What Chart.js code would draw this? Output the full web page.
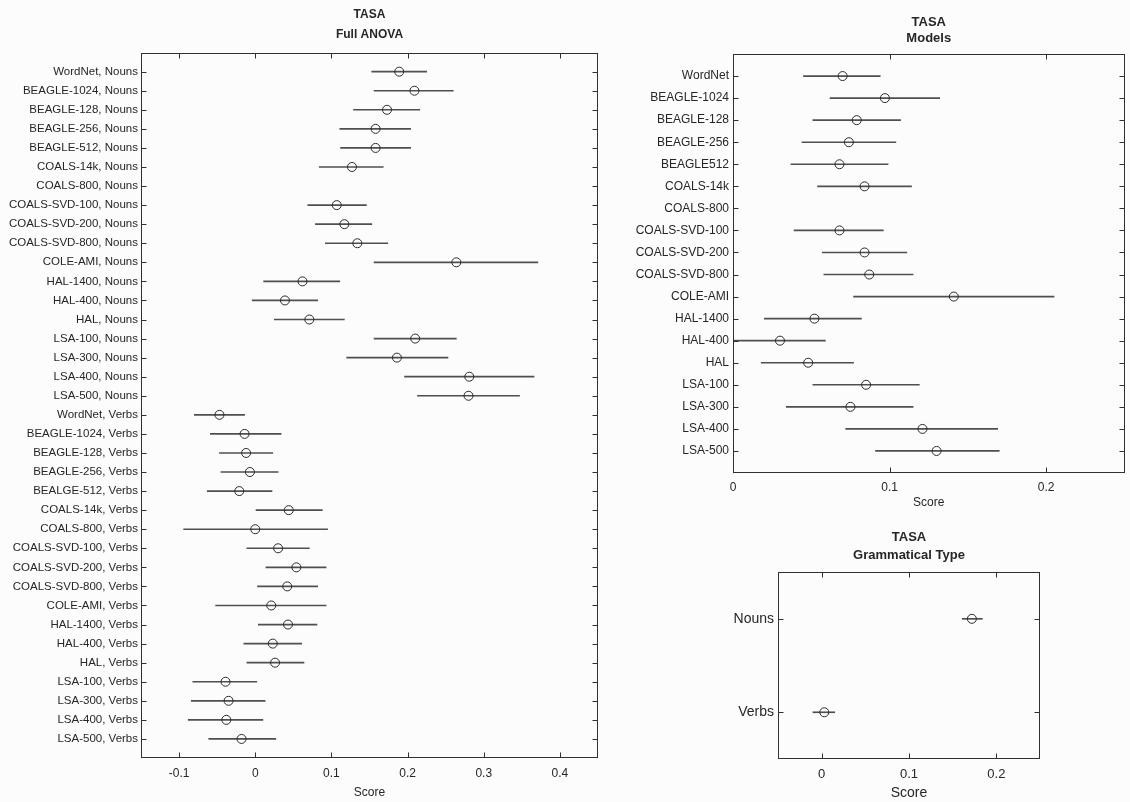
<!DOCTYPE html>
<html>
<head>
<meta charset="utf-8">
<script src="https://cdn.jsdelivr.net/npm/chart.js@4"></script>
<style>
  html, body { margin: 0; padding: 0; background: #fcfcfd; }
  #wrap { position: relative; width: 1130px; height: 802px; }
  canvas { position: absolute; left: 0; top: 0; }
</style>
</head>
<body>
<div id="wrap">
  <canvas id="anova" width="1130" height="802"></canvas>
  <canvas id="models" width="1130" height="802"></canvas>
  <canvas id="types" width="1130" height="802"></canvas>
</div>
<script>
// --- Full ANOVA panel ---
const anovaLabels = ['WordNet, Nouns','BEAGLE-1024, Nouns','BEAGLE-128, Nouns','BEAGLE-256, Nouns','BEAGLE-512, Nouns',
  'COALS-14k, Nouns','COALS-800, Nouns','COALS-SVD-100, Nouns','COALS-SVD-200, Nouns','COALS-SVD-800, Nouns',
  'COLE-AMI, Nouns','HAL-1400, Nouns','HAL-400, Nouns','HAL, Nouns','LSA-100, Nouns','LSA-300, Nouns',
  'LSA-400, Nouns','LSA-500, Nouns','WordNet, Verbs','BEAGLE-1024, Verbs','BEAGLE-128, Verbs','BEAGLE-256, Verbs',
  'BEALGE-512, Verbs','COALS-14k, Verbs','COALS-800, Verbs','COALS-SVD-100, Verbs','COALS-SVD-200, Verbs',
  'COALS-SVD-800, Verbs','COLE-AMI, Verbs','HAL-1400, Verbs','HAL-400, Verbs','HAL, Verbs','LSA-100, Verbs',
  'LSA-300, Verbs','LSA-400, Verbs','LSA-500, Verbs'];
const anovaMean = [0.189, 0.209, 0.173, 0.158, 0.158, 0.127, null, 0.107, 0.117, 0.134, 0.264, 0.062, 0.039, 0.071,
  0.210, 0.186, 0.281, 0.280, -0.047, -0.014, -0.012, -0.007, -0.021, 0.044, 0.000, 0.030, 0.054, 0.042, 0.021,
  0.043, 0.023, 0.026, -0.039, -0.035, -0.038, -0.018];
const anovaLow = [0.153, 0.156, 0.129, 0.111, 0.112, 0.084, null, 0.069, 0.079, 0.092, 0.156, 0.011, -0.004, 0.025,
  0.156, 0.120, 0.196, 0.213, -0.080, -0.059, -0.047, -0.045, -0.063, 0.001, -0.094, -0.011, 0.014, 0.003, -0.052,
  0.004, -0.015, -0.011, -0.082, -0.084, -0.088, -0.061];
const anovaHigh = [0.225, 0.260, 0.216, 0.204, 0.204, 0.168, null, 0.146, 0.153, 0.174, 0.371, 0.111, 0.082, 0.117,
  0.264, 0.253, 0.366, 0.347, -0.014, 0.034, 0.023, 0.030, 0.022, 0.088, 0.095, 0.071, 0.093, 0.082, 0.093,
  0.081, 0.061, 0.064, 0.002, 0.013, 0.010, 0.027];
const anovaTicks = [-0.1, 0, 0.1, 0.2, 0.3, 0.4];

// --- Models panel ---
const modelLabels = ['WordNet','BEAGLE-1024','BEAGLE-128','BEAGLE-256','BEAGLE512','COALS-14k','COALS-800',
  'COALS-SVD-100','COALS-SVD-200','COALS-SVD-800','COLE-AMI','HAL-1400','HAL-400','HAL','LSA-100','LSA-300',
  'LSA-400','LSA-500'];
const modelMean = [0.070, 0.097, 0.079, 0.074, 0.068, 0.084, null, 0.068, 0.084, 0.087, 0.141, 0.052, 0.030, 0.048,
  0.085, 0.075, 0.121, 0.130];
const modelLow = [0.045, 0.062, 0.051, 0.044, 0.037, 0.054, null, 0.039, 0.057, 0.058, 0.077, 0.020, 0.000, 0.018,
  0.051, 0.034, 0.072, 0.091];
const modelHigh = [0.094, 0.132, 0.107, 0.104, 0.099, 0.114, null, 0.096, 0.111, 0.115, 0.205, 0.082, 0.059, 0.077,
  0.119, 0.115, 0.169, 0.170];
const modelTicks = [0, 0.1, 0.2];

// --- Grammatical type panel ---
const typeLabels = ['Nouns', 'Verbs'];
const typeMean = [0.172, 0.003];
const typeLow = [0.161, -0.010];
const typeHigh = [0.184, 0.015];
const typeTicks = [0, 0.1, 0.2];

const FONT = "'Liberation Sans', Arial, Helvetica, sans-serif";
const INK = '#262626';

// matlab style box with inward ticks on all four sides
const frameTicks = {
  id: 'frameTicks',
  afterDatasetsDraw(chart, args, opts) {
    const {ctx, chartArea: a, scales: {x, y}} = chart;
    const L = Math.round(a.left) + 0.5, R = Math.round(a.right) - 0.5;
    const T = Math.round(a.top) + 0.5, B = Math.round(a.bottom) - 0.5;
    const len = opts.len || 5;
    ctx.save();
    ctx.strokeStyle = '#303030';
    ctx.lineWidth = 1;
    ctx.strokeRect(L, T, R - L, B - T);
    ctx.beginPath();
    x.ticks.forEach(t => {
      const px = Math.round(x.getPixelForValue(t.value)) + 0.5;
      ctx.moveTo(px, T); ctx.lineTo(px, T + len);
      ctx.moveTo(px, B); ctx.lineTo(px, B - len);
    });
    y.ticks.forEach((t, i) => {
      if (!y.getLabelForValue(t.value)) return;
      const py = Math.round(y.getPixelForTick(i)) + 0.5;
      ctx.moveTo(L, py); ctx.lineTo(L + len, py);
      ctx.moveTo(R, py); ctx.lineTo(R - len, py);
    });
    ctx.stroke();
    ctx.restore();
  }
};

function panel(id, p) {
  const labels = p.pad ? ['', ...p.labels, ''] : p.labels;
  const wrap = arr => p.pad ? [null, ...arr, null] : arr;
  const ranges = wrap(p.low.map((lo, i) => lo === null ? null : [lo, p.high[i]]));
  return new Chart(document.getElementById(id), {
    type: 'bar',
    data: {
      labels: labels,
      datasets: [
        {
          type: 'line', indexAxis: 'y', data: wrap(p.mean), showLine: false,
          pointStyle: 'circle', pointRadius: 4.5, pointBorderWidth: 1,
          pointBorderColor: '#2a2a2a', pointBackgroundColor: 'rgba(0,0,0,0)', order: 0
        },
        {
          type: 'bar', indexAxis: 'y', data: ranges, barThickness: 1,
          backgroundColor: '#4f4f4f', borderWidth: 0, order: 1
        }
      ]
    },
    options: {
      indexAxis: 'y',
      responsive: false,
      animation: false,
      layout: { padding: p.padding },
      plugins: {
        legend: { display: false },
        tooltip: { enabled: false },
        title: {
          display: true, fullSize: false, text: ['TASA', p.title], color: INK,
          font: { family: FONT, size: p.titleSize, weight: 'bold', lineHeight: p.titleLH },
          padding: p.titlePad
        },
        frameTicks: { len: 5 }
      },
      scales: {
        x: {
          type: 'linear', min: p.min, max: p.max,
          grid: { display: false, drawTicks: false },
          border: { display: false },
          afterBuildTicks: s => { s.ticks = p.ticks.map(v => ({ value: v })); },
          afterFit: s => { s.height = p.xh; },
          ticks: { color: INK, padding: p.tickPad, font: { family: FONT, size: p.tickSize }, callback: v => String(v) },
          title: { display: true, text: 'Score', color: INK, font: { family: FONT, size: p.scoreSize },
                   padding: { top: 0, bottom: p.scorePad } }
        },
        y: {
          type: 'category', offset: !p.pad,
          grid: { display: false, drawTicks: false },
          border: { display: false },
          afterFit: s => { s.width = p.yw; },
          ticks: { autoSkip: false, color: INK, padding: p.labelPad, font: { family: FONT, size: p.labelSize } }
        }
      }
    },
    plugins: [frameTicks]
  });
}

panel('anova', {
  labels: anovaLabels, mean: anovaMean, low: anovaLow, high: anovaHigh, ticks: anovaTicks,
  pad: true, min: -0.15, max: 0.45, title: 'Full ANOVA',
  padding: { left: 0, right: 532, top: 0, bottom: 0 }, yw: 141, xh: 44,
  titleSize: 12, titleLH: 1.65, titlePad: { top: 5, bottom: 8 },
  tickPad: 8, tickSize: 12, scoreSize: 12, scorePad: 2, labelPad: 3, labelSize: 11.5
});

panel('models', {
  labels: modelLabels, mean: modelMean, low: modelLow, high: modelHigh, ticks: modelTicks,
  pad: true, min: 0, max: 0.25, title: 'Models',
  padding: { left: 593, right: 2, top: 0, bottom: 291 }, yw: 140, xh: 38,
  titleSize: 13, titleLH: 1.3, titlePad: { top: 13.5, bottom: 6.7 },
  tickPad: 7, tickSize: 12, scoreSize: 12, scorePad: 1, labelPad: 4, labelSize: 12
});

panel('types', {
  labels: typeLabels, mean: typeMean, low: typeLow, high: typeHigh, ticks: typeTicks,
  pad: false, min: -0.05, max: 0.25, title: 'Grammatical Type',
  padding: { left: 698, right: 90, top: 520, bottom: 0 }, yw: 80, xh: 43,
  titleSize: 13, titleLH: 1.35, titlePad: { top: 9, bottom: 8 },
  tickPad: 8, tickSize: 13, scoreSize: 14, scorePad: 0.6, labelPad: 4, labelSize: 14
});
</script>
</body>
</html>
